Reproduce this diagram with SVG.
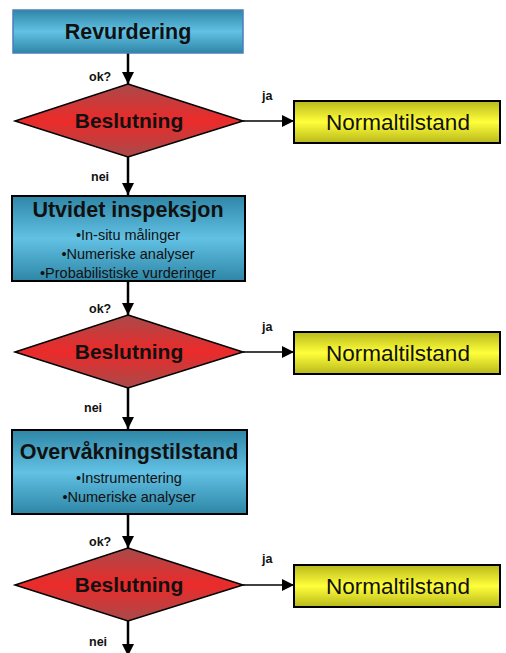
<svg xmlns="http://www.w3.org/2000/svg" width="506" height="653" viewBox="0 0 506 653">
<defs>
<linearGradient id="gBlue" x1="0" y1="0" x2="0" y2="1">
<stop offset="0" stop-color="#2e86a6"/><stop offset="0.5" stop-color="#62c1e4"/><stop offset="1" stop-color="#2e86a6"/>
</linearGradient>
<linearGradient id="gRed" x1="0" y1="0" x2="0" y2="1">
<stop offset="0" stop-color="#a84a4a"/><stop offset="0.5" stop-color="#ec2a2a"/><stop offset="1" stop-color="#a84a4a"/>
</linearGradient>
<linearGradient id="gYel" x1="0" y1="0" x2="0" y2="1">
<stop offset="0" stop-color="#b8b81c"/><stop offset="0.5" stop-color="#ffff3a"/><stop offset="1" stop-color="#b8b81c"/>
</linearGradient>
<marker id="ah" viewBox="0 0 10 10" refX="10" refY="5" markerWidth="5" markerHeight="5" orient="auto" markerUnits="strokeWidth">
<path d="M0,0 L10,5 L0,10 z" fill="#000"/>
</marker>
<marker id="ah2" viewBox="0 0 10 10" refX="10" refY="5" markerWidth="8" markerHeight="8" orient="auto" markerUnits="strokeWidth">
<path d="M0,0 L10,5 L0,10 z" fill="#000"/>
</marker>
</defs>
<style>
text{font-family:"Liberation Sans",Arial,sans-serif;fill:#111}
.t{font-size:21.5px;font-weight:bold;text-anchor:middle}
.b{font-size:21px;font-weight:bold;text-anchor:middle}
.s{font-size:14.5px;text-anchor:middle}
.n{font-size:22.5px;text-anchor:middle}
.l{font-size:12.5px;font-weight:bold}
.box{fill:url(#gBlue);stroke:#000;stroke-width:2}
.dia{fill:url(#gRed);stroke:#000;stroke-width:1.5}
.yel{fill:url(#gYel);stroke:#000;stroke-width:2}
.v{stroke:#000;stroke-width:2.5;fill:none;marker-end:url(#ah)}
.h{stroke:#000;stroke-width:1.5;fill:none;marker-end:url(#ah2)}
</style>
<g id="connectors">
<line class="v" x1="128" y1="53" x2="128" y2="84"/>
<line class="v" x1="128" y1="157" x2="128" y2="195"/>
<line class="v" x1="128" y1="282" x2="128" y2="315"/>
<line class="v" x1="128" y1="388" x2="128" y2="429"/>
<line class="v" x1="128" y1="515" x2="128" y2="548"/>
<line class="v" x1="128" y1="621" x2="128" y2="656"/>
<line class="h" x1="243" y1="121" x2="294" y2="121"/>
<line class="h" x1="243" y1="352" x2="294" y2="352"/>
<line class="h" x1="243" y1="585" x2="294" y2="585"/>
<text class="l" x="89" y="81">ok?</text>
<text class="l" x="91" y="181">nei</text>
<text class="l" x="89" y="313">ok?</text>
<text class="l" x="84" y="412">nei</text>
<text class="l" x="89" y="546">ok?</text>
<text class="l" x="89" y="646">nei</text>
<text class="l" x="262" y="100">ja</text>
<text class="l" x="262" y="331">ja</text>
<text class="l" x="262" y="563">ja</text>
</g>
<g id="revurdering">
<rect x="13" y="10" width="230" height="43" fill="url(#gBlue)" stroke="#4a7ebb" stroke-width="1.5"/>
<text class="t" x="128" y="39">Revurdering</text>
</g>
<g id="beslutning1">
<polygon class="dia" points="128,84 243,121 128,157 15,121"/>
<text class="b" x="129" y="128">Beslutning</text>
</g>
<g id="normal1">
<rect class="yel" x="294" y="101" width="206" height="42"/>
<text class="n" x="398" y="130">Normaltilstand</text>
</g>
<g id="utvidet">
<rect class="box" x="12" y="196" width="233" height="85"/>
<text class="t" x="128" y="217">Utvidet inspeksjon</text>
<text class="s" x="128" y="240">•In-situ målinger</text>
<text class="s" x="128" y="259">•Numeriske analyser</text>
<text class="s" x="128" y="278">•Probabilistiske vurderinger</text>
</g>
<g id="beslutning2">
<polygon class="dia" points="128,315 243,352 128,388 15,352"/>
<text class="b" x="129" y="359">Beslutning</text>
</g>
<g id="normal2">
<rect class="yel" x="294" y="332" width="206" height="42"/>
<text class="n" x="398" y="361">Normaltilstand</text>
</g>
<g id="overvakning">
<rect class="box" x="12" y="430" width="235" height="84"/>
<text class="t" x="129" y="459">Overvåkningstilstand</text>
<text class="s" x="129" y="483">•Instrumentering</text>
<text class="s" x="129" y="502">•Numeriske analyser</text>
</g>
<g id="beslutning3">
<polygon class="dia" points="128,548 243,585 128,621 15,585"/>
<text class="b" x="129" y="592">Beslutning</text>
</g>
<g id="normal3">
<rect class="yel" x="294" y="565" width="206" height="42"/>
<text class="n" x="398" y="594">Normaltilstand</text>
</g>
</svg>
